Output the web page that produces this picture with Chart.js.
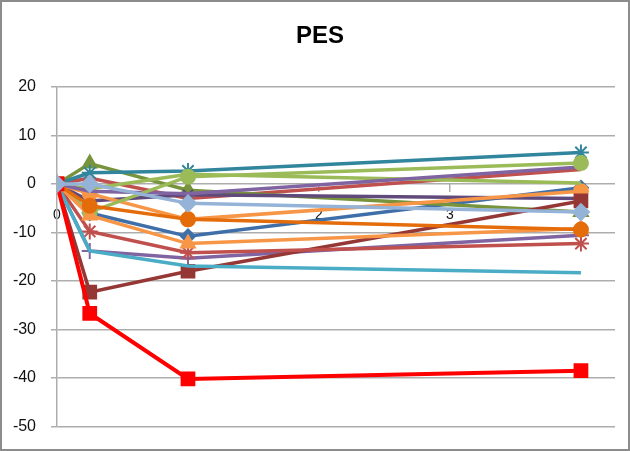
<!DOCTYPE html>
<html>
<head>
<meta charset="utf-8">
<script src="https://cdn.jsdelivr.net/npm/chart.js@4"></script>
<style>
  html, body { margin: 0; padding: 0; background: #fff; }
  #wrap { width: 630px; height: 451px; position: relative; }
</style>
</head>
<body>
<div id="wrap"><canvas id="c" width="630" height="451"></canvas></div>
<script>
// Measurement times (x) and tick labels
const xValues = [0, 0.25, 1, 4];
const xTickLabels = ['0', '1', '2', '3', '4'];
const yTickValues = [20, 10, 0, -10, -20, -30, -40, -50];

// PES change per subject, one array per line
const seriesBlue       = [0, -6.0, -10.8, -0.8];
const seriesRed        = [0, 1.2, -3.0, 3.0];
const seriesOlive      = [0, 4.2, -1.3, -5.8];
const seriesPurpleX    = [0, -3.5, -2.2, -3.0];
const seriesTeal       = [0, 2.3, 2.7, 6.5];
const seriesOrange     = [0, -2.0, -7.3, -1.5];
const seriesPurplePlus = [0, -13.8, -15.3, -10.6];
const seriesDarkRed    = [0, -22.3, -18.0, -3.5];
const seriesGreen      = [0, -1.0, 2.0, 0.2];
const seriesPurple     = [0, -1.5, -2.0, 3.5];
const seriesLightGreen = [0, -5.8, 1.5, 4.3];
const seriesRedStar    = [0, -9.8, -14.2, -12.3];
const seriesOrangeTri  = [0, -6.5, -12.3, -9.2];
const seriesDarkOrange = [0, -4.5, -7.3, -9.4];
const seriesAqua       = [0, -13.8, -16.9, -18.3];
const seriesBrightRed  = [0, -26.7, -40.2, -38.5];
const seriesLightBlue  = [0, 0.0, -4.0, -5.8];

// Drawing styles, listed in drawing order (last one ends up on top)
const lines = [
  { data: seriesBlue,       color: '#3F6FA8', marker: 'rectRot',  r: 7 },
  { data: seriesRed,        color: '#C0504D', marker: false,      r: 0 },
  { data: seriesOlive,      color: '#77933C', marker: 'triangle', r: 8 },
  { data: seriesPurpleX,    color: '#604A7B', marker: 'crossRot', r: 7 },
  { data: seriesTeal,       color: '#31859C', marker: 'star',     r: 8 },
  { data: seriesOrange,     color: '#F79646', marker: 'circle',   r: 7 },
  { data: seriesPurplePlus, color: '#8064A2', marker: 'cross',    r: 8 },
  { data: seriesDarkRed,    color: '#953735', marker: 'rect',     r: 9 },
  { data: seriesGreen,      color: '#9BBB59', marker: false,      r: 0 },
  { data: seriesPurple,     color: '#8064A2', marker: false,      r: 0 },
  { data: seriesLightGreen, color: '#9BBB59', marker: 'circle',   r: 7 },
  { data: seriesRedStar,    color: '#C0504D', marker: 'star',     r: 8 },
  { data: seriesOrangeTri,  color: '#F79646', marker: 'triangle', r: 8 },
  { data: seriesDarkOrange, color: '#E46C0A', marker: 'circle',   r: 7 },
  { data: seriesAqua,       color: '#4BACC6', marker: false,      r: 0 },
  { data: seriesBrightRed,  color: '#FF0000', marker: 'rect',     r: 9 },
  { data: seriesLightBlue,  color: '#95B3D7', marker: 'rectRot',  r: 8 }
];

const n = lines.length;
const datasets = lines.map((s, i) => ({
  data: s.data.map((y, k) => ({ x: xValues[k], y: y })),
  borderColor: s.color,
  backgroundColor: s.color,
  borderWidth: s.color === '#FF0000' ? 4 : 3.5,
  pointStyle: s.marker,
  pointRadius: s.r,
  pointBorderWidth: 2,
  pointBorderColor: s.color,
  pointBackgroundColor: s.color,
  tension: 0,
  order: n - i
}));

// Grey frame around the whole chart; title centred on the full frame width
const framePlugin = {
  id: 'frame',
  afterLayout(chart) {
    const t = chart.titleBlock;
    if (t) {
      t.left = 10;
      t.right = chart.width;
      t.width = t.right - t.left;
    }
  },
  afterDraw(chart) {
    const ctx = chart.ctx;
    ctx.save();
    ctx.strokeStyle = '#8C8C8C';
    ctx.lineWidth = 2;
    ctx.strokeRect(1, 1, chart.width - 2, chart.height - 2);
    ctx.restore();
  }
};

const gridColor = '#ADADAD';
const fontFamily = "'Liberation Sans', Arial, sans-serif";

new Chart(document.getElementById('c'), {
  type: 'line',
  data: { datasets },
  plugins: [framePlugin],
  options: {
    responsive: false,
    devicePixelRatio: 1,
    animation: false,
    layout: { padding: { left: 0, right: 15, top: 0, bottom: 0 } },
    plugins: {
      legend: { display: false },
      tooltip: { enabled: false },
      title: {
        display: true,
        text: 'PES',
        color: '#000',
        font: { family: fontFamily, size: 24, weight: 'bold', lineHeight: 1.2 },
        padding: { top: 21.6, bottom: 36.6 }
      }
    },
    scales: {
      x: {
        type: 'linear',
        position: { y: 0 },
        z: 1,
        min: 0,
        max: 4.26,
        afterFit(s) { s.height = 25; },
        ticks: {
          stepSize: 1,
          includeBounds: false,
          autoSkip: false,
          maxRotation: 0,
          padding: 15,
          color: '#111',
          font: { family: fontFamily, size: 14 },
          callback: v => Number.isInteger(v) ? xTickLabels[v] : ''
        },
        grid: {
          display: true,
          drawOnChartArea: false,
          drawTicks: true,
          tickLength: 8,
          color: gridColor,
          lineWidth: 1.5
        },
        border: { display: false }
      },
      y: {
        type: 'linear',
        min: yTickValues[yTickValues.length - 1],
        max: yTickValues[0],
        afterFit(s) { s.width = 57; },
        ticks: {
          stepSize: 10,
          padding: 15,
          color: '#111',
          font: { family: fontFamily, size: 16 }
        },
        grid: {
          color: gridColor,
          lineWidth: 1.5,
          tickLength: 6
        },
        border: { display: true, color: gridColor, width: 1.5 }
      }
    }
  }
});
</script>
</body>
</html>
